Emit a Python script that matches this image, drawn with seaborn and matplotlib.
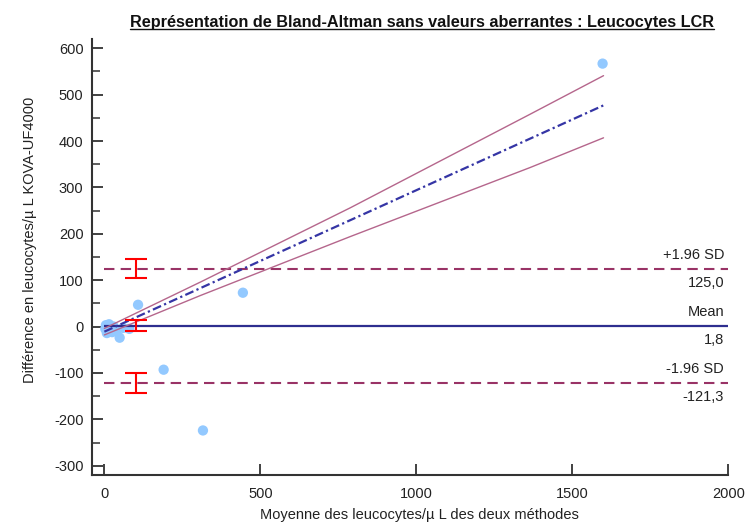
import matplotlib.pyplot as plt
import seaborn as sns
import pandas as pd
from matplotlib.lines import Line2D
from matplotlib.ticker import MultipleLocator

# Points (moyenne des deux méthodes, différence)
moyenne = [1597, 444, 316, 190, 108, 5, 10, 15, 20, 25, 8, 30, 49, 80, 3, 12, 40, 60]
difference = [567, 73, -224, -93, 47, 3, -8, 5, -2, -12, -14, 0, -24, -5, -5, -1, -8, -3]

# Limites d'agrément
moy_diff = 1.8
lim_sup = 125.0
lim_inf = -121.3
ic_limites = [21, 12, 21]      # demi-largeur des IC des limites
x_ic = 100                      # position des barres d'erreur

# Droite de régression et son intervalle de confiance
reg_x = [0, 1600]
reg_y = [-11, 477]
ic_x = [0, 308, 788, 1365, 1600]
ic_haut = [-4, 96, 256, 458, 541]
ic_bas = [-18, 67, 194, 343, 407]

sns.set_theme(style="white")
plt.rcParams['font.family'] = ['Liberation Sans', 'DejaVu Sans']
plt.rcParams['axes.unicode_minus'] = False

fig = plt.figure(figsize=(7.47, 5.31), dpi=100)
ax = fig.add_axes([0.123, 0.1055, 0.852, 0.821])

df = pd.DataFrame({'moyenne': moyenne, 'difference': difference})
sns.scatterplot(data=df, x='moyenne', y='difference', ax=ax, color='#93C9FF',
                s=55, edgecolor='none', zorder=2)

# limites horizontales
ax.hlines(moy_diff, 0, 2000, color='#2E2E8F', lw=1.6, zorder=3)
for v in (lim_sup, lim_inf):
    ax.hlines(v, 0, 2000, color='#993366', lw=1.5, linestyles=(0, (5, 3)), zorder=3)

# régression + IC
sns.lineplot(x=ic_x, y=ic_haut, ax=ax, color='#B5668C', lw=1.0, zorder=3)
sns.lineplot(x=ic_x, y=ic_bas, ax=ax, color='#B5668C', lw=1.0, zorder=3)
ax.plot(reg_x, reg_y, color='#3535A5', lw=1.6, dashes=(4, 1.5, 1, 1.5), zorder=4)

# IC des limites
ax.errorbar([x_ic] * 3, [lim_sup, moy_diff, lim_inf], yerr=ic_limites, fmt='none',
            ecolor='#FF0000', elinewidth=1.5, capsize=8, capthick=1.5, zorder=5)

# textes à droite
etiquettes = [(lim_sup, '+1.96 SD', '125,0'), (moy_diff, 'Mean', '1,8'),
              (lim_inf, '-1.96 SD', '-121,3')]
for v, haut, bas in etiquettes:
    ax.annotate(haut, xy=(1, v), xycoords=('axes fraction', 'data'), xytext=(-3, 5),
                textcoords='offset points', ha='right', va='bottom', fontsize=10.5, color='#222222')
    ax.annotate(bas, xy=(1, v), xycoords=('axes fraction', 'data'), xytext=(-3, -5),
                textcoords='offset points', ha='right', va='top', fontsize=10.5, color='#222222')

ax.set_xlim(-40, 2000)
ax.set_ylim(-320, 620)
ax.set_xticks([0, 500, 1000, 1500, 2000])
ax.set_yticks(range(-300, 601, 100))
ax.yaxis.set_minor_locator(MultipleLocator(50))

for s in ('top', 'right'):
    ax.spines[s].set_visible(False)
for s in ('left', 'bottom'):
    ax.spines[s].set_color('#333333')
    ax.spines[s].set_linewidth(1.5)

ax.tick_params(axis='x', which='major', bottom=True, direction='in', length=8, width=1.3,
               color='#333333', labelcolor='#222222', labelsize=10.5, pad=9)
ax.tick_params(axis='y', which='major', left=True, direction='in', length=8, width=1.3,
               color='#333333', labelcolor='#222222', labelsize=10.5, pad=6)
ax.tick_params(axis='y', which='minor', left=True, direction='in', length=6, width=1.1,
               color='#333333')

ax.set_xlabel('Moyenne des leucocytes/µ L des deux méthodes', fontsize=10.5, color='#222222')
ax.set_ylabel('Différence en leucocytes/µ L KOVA-UF4000', fontsize=10.5, color='#222222')
ax.xaxis.set_label_coords(0.514, -0.075)
ax.yaxis.set_label_coords(-0.087, 0.54)

titre = fig.text(0.565, 1 - 22 / 531,
                 'Représentation de Bland-Altman sans valeurs aberrantes : Leucocytes LCR',
                 ha='center', va='center', fontsize=11.7, fontweight='bold', color='#111111')

# soulignement du titre
fig.canvas.draw()
bb = titre.get_window_extent()
W, H = fig.bbox.width, fig.bbox.height
fig.add_artist(Line2D([bb.x0 / W, bb.x1 / W], [(bb.y0 + 1) / H] * 2,
                      transform=fig.transFigure, color='#111111', lw=1.0))

fig.savefig('out.png', dpi=100)
